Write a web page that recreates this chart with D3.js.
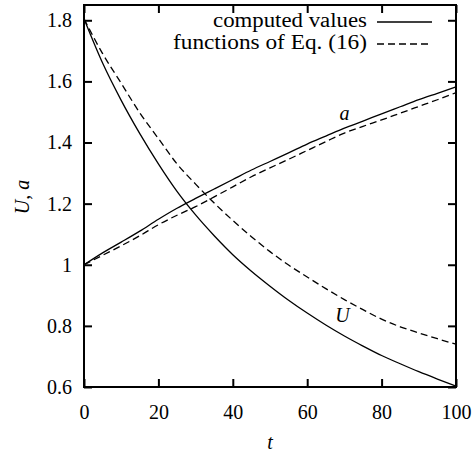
<!DOCTYPE html>
<html>
<head>
<meta charset="utf-8">
<script src="https://cdn.jsdelivr.net/npm/d3@7"></script>
<style>
  body { margin: 0; background: #fff; }
  svg text { font-family: "Liberation Serif", "DejaVu Serif", "Noto Serif", serif !important; }
</style>
</head>
<body>
<script>
const width = 472, height = 452;

// time grid
const t = [0, 5, 10, 15, 20, 25, 30, 35, 40, 45, 50, 55, 60, 65, 70, 75, 80, 85, 90, 95, 100];
// computed values (solid)
const uComputed = [1.805, 1.66, 1.538, 1.429, 1.33, 1.24, 1.163, 1.095, 1.033, 0.979, 0.93,
  0.884, 0.842, 0.803, 0.767, 0.734, 0.703, 0.676, 0.65, 0.626, 0.603];
const aComputed = [1.0, 1.039, 1.074, 1.11, 1.149, 1.185, 1.217, 1.248, 1.279, 1.31, 1.338,
  1.366, 1.395, 1.421, 1.447, 1.47, 1.494, 1.517, 1.54, 1.561, 1.582];
// functions of Eq. (16) (dashed)
const uEq = [1.805, 1.691, 1.594, 1.497, 1.413, 1.33, 1.264, 1.202, 1.145, 1.092, 1.043,
  0.999, 0.96, 0.922, 0.886, 0.853, 0.822, 0.797, 0.777, 0.758, 0.74];
const aEq = [1.0, 1.031, 1.062, 1.095, 1.131, 1.162, 1.19, 1.222, 1.255, 1.288, 1.317,
  1.345, 1.374, 1.403, 1.431, 1.453, 1.474, 1.496, 1.518, 1.54, 1.563];

const xTicks = [0, 20, 40, 60, 80, 100];
const yTicks = [0.6, 0.8, 1, 1.2, 1.4, 1.6, 1.8];
const legendLabels = ["computed values", "functions of Eq. (16)"];

const x = d3.scaleLinear().domain([0, 100]).range([84, 456]);
const y = d3.scaleLinear().domain([0.6, 1.85]).range([387, 5]);

const svg = d3.select("body").append("svg")
  .attr("width", width)
  .attr("height", height);

const fmt = d3.format("~g");

// axes with inward ticks on all four sides
function styleAxis(g) {
  g.attr("font-family", null);
  g.select(".domain").remove();
  g.selectAll(".tick line").attr("stroke", "#000").attr("stroke-width", 2);
  g.selectAll(".tick text").attr("font-size", 20).attr("fill", "#000");
}

svg.append("g")
  .attr("transform", `translate(0,${y.range()[0]})`)
  .call(d3.axisBottom(x).tickValues(xTicks).tickFormat(fmt).tickSizeInner(-8).tickSizeOuter(0).tickPadding(18))
  .call(styleAxis);

svg.append("g")
  .attr("transform", `translate(0,${y.range()[1]})`)
  .call(d3.axisTop(x).tickValues(xTicks).tickFormat("").tickSizeInner(-8).tickSizeOuter(0))
  .call(styleAxis);

svg.append("g")
  .attr("transform", `translate(${x.range()[0]},0)`)
  .call(d3.axisLeft(y).tickValues(yTicks).tickFormat(fmt).tickSizeInner(-8).tickSizeOuter(0).tickPadding(12))
  .call(styleAxis);

svg.append("g")
  .attr("transform", `translate(${x.range()[1]},0)`)
  .call(d3.axisRight(y).tickValues(yTicks).tickFormat("").tickSizeInner(-8).tickSizeOuter(0))
  .call(styleAxis);

// frame
svg.append("rect")
  .attr("x", x.range()[0])
  .attr("y", y.range()[1])
  .attr("width", x.range()[1] - x.range()[0])
  .attr("height", y.range()[0] - y.range()[1])
  .attr("fill", "none")
  .attr("stroke", "#000")
  .attr("stroke-width", 2);

// curves
const line = d3.line()
  .x(d => x(d[0]))
  .y(d => y(d[1]))
  .curve(d3.curveMonotoneX);

const series = [
  { values: uComputed, dash: null },
  { values: aComputed, dash: null },
  { values: uEq, dash: "7,4" },
  { values: aEq, dash: "7,4" }
];

svg.selectAll(".curve")
  .data(series)
  .enter()
  .append("path")
  .attr("class", "curve")
  .attr("d", s => line(t.map((v, i) => [v, s.values[i]])))
  .attr("fill", "none")
  .attr("stroke", "#000")
  .attr("stroke-width", 1.3)
  .attr("stroke-dasharray", s => s.dash);

// curve labels
svg.append("text")
  .attr("x", x(70))
  .attr("y", y(1.45) - 7)
  .attr("text-anchor", "middle")
  .attr("font-size", 20)
  .attr("font-style", "italic")
  .text("a");

svg.append("text")
  .attr("x", x(69.5))
  .attr("y", y(0.83) + 5)
  .attr("text-anchor", "middle")
  .attr("font-size", 20)
  .attr("font-style", "italic")
  .text("U");

// legend
const legend = svg.append("g");
const legendY = [27, 49];
const legendLen = [154, 194];
legend.selectAll("text")
  .data(legendLabels)
  .enter()
  .append("text")
  .attr("x", 367)
  .attr("y", (d, i) => legendY[i])
  .attr("text-anchor", "end")
  .attr("font-size", 20)
  .attr("textLength", (d, i) => legendLen[i])
  .attr("lengthAdjust", "spacingAndGlyphs")
  .text(d => d);

legend.selectAll("line")
  .data([null, "7,4"])
  .enter()
  .append("line")
  .attr("x1", 377)
  .attr("x2", 432)
  .attr("y1", (d, i) => legendY[i] - 5)
  .attr("y2", (d, i) => legendY[i] - 5)
  .attr("stroke", "#000")
  .attr("stroke-width", 1.3)
  .attr("stroke-dasharray", d => d);

// axis titles
svg.append("text")
  .attr("x", 270)
  .attr("y", 449)
  .attr("text-anchor", "middle")
  .attr("font-size", 20)
  .attr("font-style", "italic")
  .text("t");

svg.append("text")
  .attr("transform", "translate(29,197) rotate(-90)")
  .attr("text-anchor", "middle")
  .attr("font-size", 20)
  .attr("font-style", "italic")
  .text("U, a");
</script>
</body>
</html>
